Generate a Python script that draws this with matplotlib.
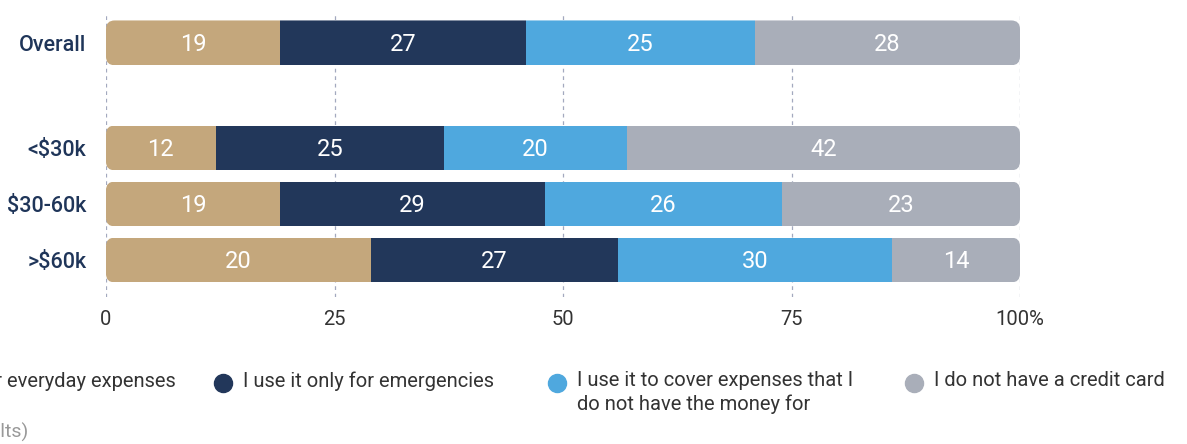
import matplotlib.pyplot as plt
import numpy as np
from matplotlib.patches import FancyBboxPatch

plt.rcParams["font.family"] = ["Roboto", "DejaVu Sans"]

# Data
groups = ["Overall", "<$30k", "$30-60k", ">$60k"]
series = [
    "I use it for everyday expenses",
    "I use it only for emergencies",
    "I use it to cover expenses that I\ndo not have the money for",
    "I do not have a credit card",
]
# segment widths as drawn (percent)
everyday = [19, 12, 19, 29]
emergencies = [27, 25, 29, 27]
cover = [25, 20, 26, 30]
no_card = [29, 43, 26, 14]
# numbers printed on the bars
everyday_lbl = [19, 12, 19, 20]
emergencies_lbl = [27, 25, 29, 27]
cover_lbl = [25, 20, 26, 30]
no_card_lbl = [28, 42, 23, 14]

colors = ["#C4A77C", "#22375A", "#4FA8DE", "#A9AEB9"]
ypos = [3.875, 2, 1, 0]

fig = plt.figure(figsize=(11.87, 4.44), dpi=100)
ax = fig.add_axes([106 / 1187, 1 - 297 / 444, 914 / 1187, 283 / 444])

widths = [everyday, emergencies, cover, no_card]
labels = [everyday_lbl, emergencies_lbl, cover_lbl, no_card_lbl]
h = 0.8
aspect = 9.14 / 56

for i, y in enumerate(ypos):
    clip = FancyBboxPatch((0, y - h / 2), 100, h,
                          boxstyle="round,pad=0,rounding_size=0.95",
                          mutation_aspect=aspect, transform=ax.transData,
                          facecolor="none", edgecolor="none")
    ax.add_patch(clip)
    left = 0
    for k in range(4):
        w = widths[k][i]
        bars = ax.barh(y, w, left=left, height=h, color=colors[k],
                       edgecolor="none", zorder=2)
        for b in bars:
            b.set_clip_path(clip)
        ax.text(left + w / 2, y - 0.03, str(labels[k][i]), ha="center", va="center",
                color="white", fontsize=17, zorder=3)
        left += w

ax.set_xlim(0, 100)
ax.set_ylim(-0.66, 4.39)
ax.set_xticks([0, 25, 50, 75, 100])
ax.set_xticklabels(["0", "25", "50", "75", "100%"])
ax.set_yticks(ypos)
ax.set_yticklabels(groups)
ax.tick_params(axis="x", length=0, pad=9, labelsize=14.5, labelcolor="#333333")
ax.tick_params(axis="y", length=0, pad=14, labelsize=15.5, labelcolor="#1F3559")
for t in ax.get_yticklabels():
    t.set_fontweight("medium")
ax.xaxis.grid(True, linestyle=(0, (3, 3)), color="#A3A9BF", linewidth=0.9, zorder=0)
ax.set_axisbelow(True)
for s in ax.spines.values():
    s.set_visible(False)

# Legend (manual, partly cut at the left edge like the source)
leg_y = 1 - 383 / 444
marker_x = [None, 223, 557, 914]
for k in range(4):
    if k == 0:
        # first entry runs off the left edge; only its tail is visible
        fig.text(176 / 1187, leg_y + 12 / 444, series[k], ha="right", va="top",
                 fontsize=14.5, color="#333333")
        continue
    fig.add_artist(plt.Line2D([marker_x[k] / 1187], [leg_y], marker="o",
                              markersize=13, color=colors[k], linestyle="none",
                              transform=fig.transFigure))
    fig.text((marker_x[k] + 20) / 1187, leg_y + 12 / 444, series[k],
             ha="left", va="top", fontsize=14.5, color="#333333",
             linespacing=1.3)

fig.text(28 / 1187, 1 - 432 / 444, "(Weighted results)", ha="right",
         va="center", fontsize=14, color="#999999")

fig.savefig("out.png", dpi=100)
